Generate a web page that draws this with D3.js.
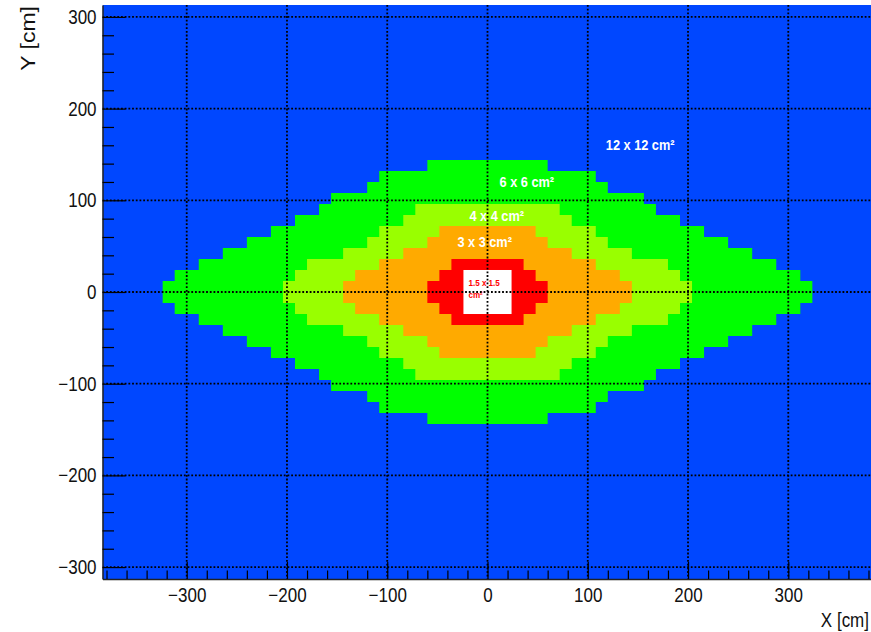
<!DOCTYPE html>
<html>
<head>
<meta charset="utf-8">
<script src="https://cdn.jsdelivr.net/npm/d3@7"></script>
<style>
  body { margin: 0; background: #fff; }
  svg { display: block; font-family: "Liberation Sans", Arial, Helvetica, sans-serif; }
</style>
</head>
<body>
<svg id="chart" width="871" height="632"></svg>
<script>
// calorimeter module zones: half-width (cm) of each 12 cm row, counted from y = 0 outwards
const rowPitch = 12;
const zone6 = [324, 312, 288, 264, 240, 216, 192, 168, 156, 120, 108, 60];
const zone4 = [204, 192, 180, 144, 120, 108, 84, 72];
const zone3 = [144, 132, 108, 84, 60, 48];
const zone15 = [60, 48, 36];
const beamHole = 24; // half size of the central hole (cm)

const xTicks = [-300, -200, -100, 0, 100, 200, 300];
const yTicks = [-300, -200, -100, 0, 100, 200, 300];

const labelText = ['12 x 12 cm²', '6 x 6 cm²', '4 x 4 cm²', '3 x 3 cm²', '1.5 x 1.5', 'cm²'];
const labelX = [118, 12, -18, -30, -19, -19];
const labelY = [155, 114.5, 77, 49, 7, -6.7];

const svg = d3.select('#chart');
const x = d3.scaleLinear().domain([-384, 384]).range([102.5, 872.5]);
const y = d3.scaleLinear().domain([-313, 313]).range([579, 5]);
const squash = 'scale(0.85,1)';

svg.append('clipPath').attr('id', 'frame')
  .append('rect')
  .attr('x', x(-384)).attr('y', y(313))
  .attr('width', x(384) - x(-384)).attr('height', y(-313) - y(313));

const plot = svg.append('g').attr('clip-path', 'url(#frame)');

// 12 x 12 everywhere else
plot.append('rect')
  .attr('x', x(-384)).attr('y', y(313))
  .attr('width', x(384) - x(-384)).attr('height', y(-313) - y(313))
  .attr('fill', '#0047ff');

// stepped outline of a zone, mirrored in x and y
function outline(w) {
  const pts = [];
  const n = w.length;
  for (let k = 0; k < n; k++) { pts.push([w[k], k * rowPitch], [w[k], (k + 1) * rowPitch]); }
  for (let k = n - 1; k >= 0; k--) { pts.push([-w[k], (k + 1) * rowPitch], [-w[k], k * rowPitch]); }
  for (let k = 0; k < n; k++) { pts.push([-w[k], -k * rowPitch], [-w[k], -(k + 1) * rowPitch]); }
  for (let k = n - 1; k >= 0; k--) { pts.push([w[k], -(k + 1) * rowPitch], [w[k], -k * rowPitch]); }
  return pts;
}

const line = d3.line().x(d => x(d[0])).y(d => y(d[1]));
const zones = [
  { w: zone6, color: '#00ff00' },
  { w: zone4, color: '#99ff00' },
  { w: zone3, color: '#ffaa00' },
  { w: zone15, color: '#ff0000' }
];

plot.selectAll('path.zone')
  .data(zones)
  .join('path')
  .attr('class', 'zone')
  .attr('d', d => line(outline(d.w)) + 'Z')
  .attr('fill', d => d.color);

plot.append('rect')
  .attr('x', x(-beamHole)).attr('y', y(beamHole))
  .attr('width', x(beamHole) - x(-beamHole))
  .attr('height', y(-beamHole) - y(beamHole))
  .attr('fill', '#fff');

// zone labels
const labelSize = [15, 15, 15, 15, 9.5, 9.5];
const labelColor = ['#fff', '#fff', '#fff', '#fff', '#ff0000', '#ff0000'];
plot.selectAll('text.zl')
  .data(labelText)
  .join('text')
  .attr('class', 'zl')
  .attr('transform', (d, i) => `translate(${x(labelX[i])},${y(labelY[i])}) ${squash}`)
  .attr('font-size', (d, i) => labelSize[i])
  .attr('font-weight', 'bold')
  .attr('fill', (d, i) => labelColor[i])
  .text(d => d);

// dotted grid
const grid = plot.append('g')
  .attr('stroke', '#000')
  .attr('stroke-width', 1.8)
  .attr('stroke-dasharray', '1.8,1.9');
grid.selectAll('line.gx')
  .data(xTicks)
  .join('line')
  .attr('class', 'gx')
  .attr('x1', d => x(d)).attr('x2', d => x(d))
  .attr('y1', y(313)).attr('y2', y(-313));
grid.selectAll('line.gy')
  .data(yTicks)
  .join('line')
  .attr('class', 'gy')
  .attr('y1', d => y(d)).attr('y2', d => y(d))
  .attr('x1', x(-384)).attr('x2', x(384));

// axes
const fmt = d3.format('d');
const xMinor = d3.range(-380, 381, 20).filter(v => v % 100 !== 0);
const yMinor = d3.range(-300, 301, 20).filter(v => v % 100 !== 0);

const xAxis = svg.append('g')
  .attr('transform', `translate(0,${y(-313)})`)
  .call(d3.axisBottom(x).tickValues(xTicks).tickSize(-17).tickSizeOuter(0).tickPadding(9).tickFormat(fmt));
svg.append('g')
  .attr('transform', `translate(0,${y(-313)})`)
  .call(d3.axisBottom(x).tickValues(xMinor).tickSize(-8.5).tickSizeOuter(0).tickFormat(''))
  .call(g => g.select('.domain').remove());

const yAxis = svg.append('g')
  .attr('transform', `translate(${x(-384)},0)`)
  .call(d3.axisLeft(y).tickValues(yTicks).tickSize(-23).tickSizeOuter(0).tickPadding(7).tickFormat(fmt));
svg.append('g')
  .attr('transform', `translate(${x(-384)},0)`)
  .call(d3.axisLeft(y).tickValues(yMinor).tickSize(-11.5).tickSizeOuter(0).tickFormat(''))
  .call(g => g.select('.domain').remove());

svg.selectAll('.tick line').attr('stroke', '#000').attr('stroke-width', 1.2);
svg.selectAll('.domain').attr('stroke', '#222').attr('stroke-width', 1.5);
[xAxis, yAxis].forEach(a => a.attr('font-family', null).attr('font-size', null));
xAxis.selectAll('text')
  .attr('font-size', 20).attr('fill', '#111')
  .attr('transform', squash);
yAxis.selectAll('text')
  .attr('font-size', 20).attr('fill', '#111')
  .attr('transform', squash);

// axis titles
svg.append('text')
  .attr('transform', `translate(869,627) ${squash}`)
  .attr('text-anchor', 'end')
  .attr('font-size', 20)
  .attr('fill', '#111')
  .text('X [cm]');
svg.append('text')
  .attr('transform', `translate(34.5,6) ${squash} rotate(-90)`)
  .attr('text-anchor', 'end')
  .attr('font-size', 23)
  .attr('fill', '#111')
  .text('Y [cm]');
</script>
</body>
</html>
